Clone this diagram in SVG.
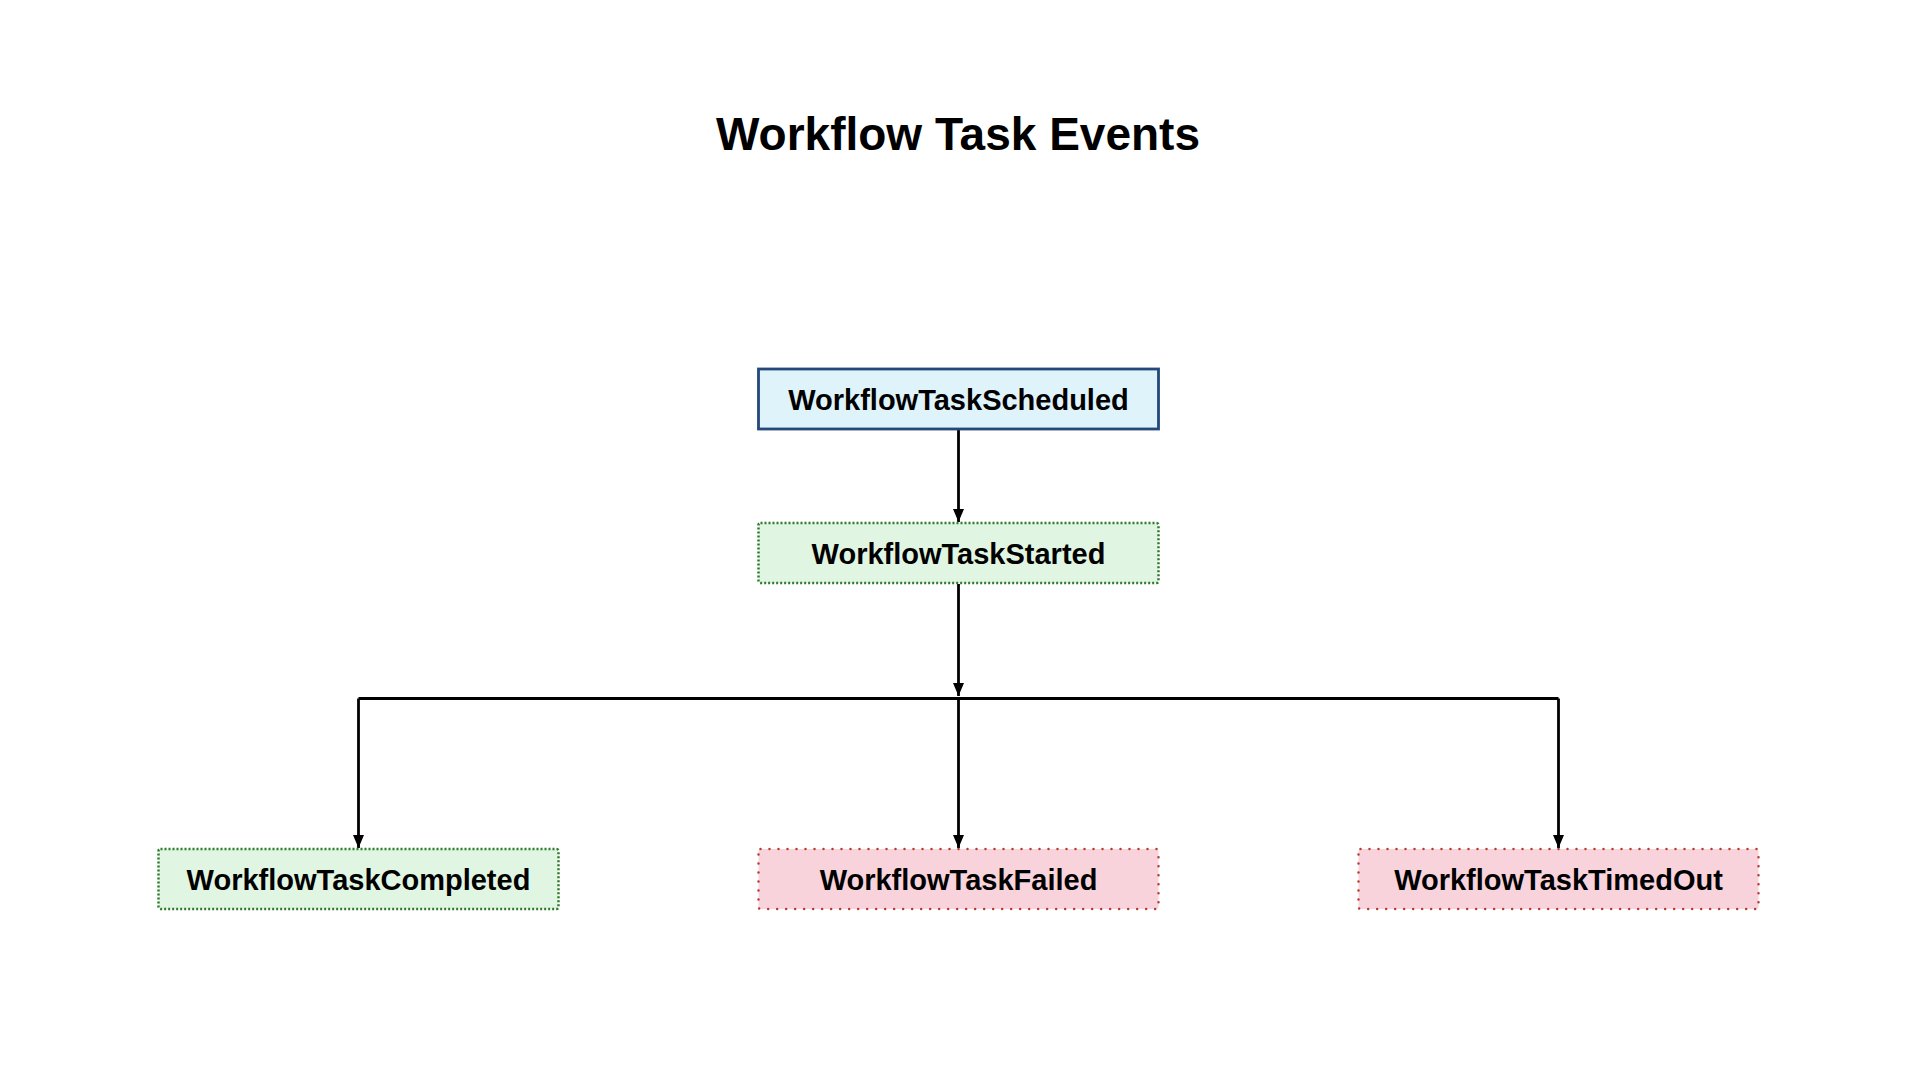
<svg xmlns="http://www.w3.org/2000/svg" width="1920" height="1080" viewBox="0 0 1920 1080">
<style>
  .title { font-family: "Liberation Sans", Arial, sans-serif; font-weight: bold; font-size: 46px; fill: #000; text-anchor: middle; }
  .label { font-family: "Liberation Sans", Arial, sans-serif; font-weight: bold; font-size: 29px; fill: #000; text-anchor: middle; }
  .sched { fill: #dff3fb; stroke: #24487a; stroke-width: 2.8; }
  .ok { fill: #e0f6e2; stroke: #2f7a2b; stroke-width: 2.5; stroke-dasharray: 2 2; }
  .bad { fill: #f8d3db; stroke: #b83a2e; stroke-width: 2.5; stroke-dasharray: 0 9; stroke-linecap: round; }
  .edge { fill: none; stroke: #000; stroke-width: 2.8; }
</style>
<defs>
  <marker id="arrow" markerWidth="13" markerHeight="11" refX="10" refY="5" orient="auto" markerUnits="userSpaceOnUse" viewBox="0 0 10 10" preserveAspectRatio="none">
    <path d="M0,0 L10,5 L0,10 Z" fill="#000"/>
  </marker>
</defs>
<rect width="1920" height="1080" fill="#fff"/>
<text class="title" x="958" y="150">Workflow Task Events</text>

<g id="connectors">
  <path class="edge" d="M958.5,430 V522" marker-end="url(#arrow)"/>
  <path class="edge" d="M958.5,584 V696" marker-end="url(#arrow)"/>
  <path class="edge" d="M358.5,698.5 H1558.5"/>
  <path class="edge" d="M358.5,698.5 V848" marker-end="url(#arrow)"/>
  <path class="edge" d="M958.5,698.5 V848" marker-end="url(#arrow)"/>
  <path class="edge" d="M1558.5,698.5 V848" marker-end="url(#arrow)"/>
</g>

<g id="WorkflowTaskScheduled">
  <rect class="sched" x="758.5" y="369" width="400" height="60"/>
  <text class="label" x="958.5" y="410">WorkflowTaskScheduled</text>
</g>
<g id="WorkflowTaskStarted">
  <rect class="ok" x="758.5" y="523" width="400" height="60" rx="2"/>
  <text class="label" x="958.5" y="564">WorkflowTaskStarted</text>
</g>
<g id="WorkflowTaskCompleted">
  <rect class="ok" x="158.5" y="849" width="400" height="60" rx="2"/>
  <text class="label" x="358.5" y="890">WorkflowTaskCompleted</text>
</g>
<g id="WorkflowTaskFailed">
  <rect class="bad" x="758.5" y="849" width="400" height="60" rx="2"/>
  <text class="label" x="958.5" y="890">WorkflowTaskFailed</text>
</g>
<g id="WorkflowTaskTimedOut">
  <rect class="bad" x="1358.5" y="849" width="400" height="60" rx="2"/>
  <text class="label" x="1558.5" y="890">WorkflowTaskTimedOut</text>
</g>
</svg>
